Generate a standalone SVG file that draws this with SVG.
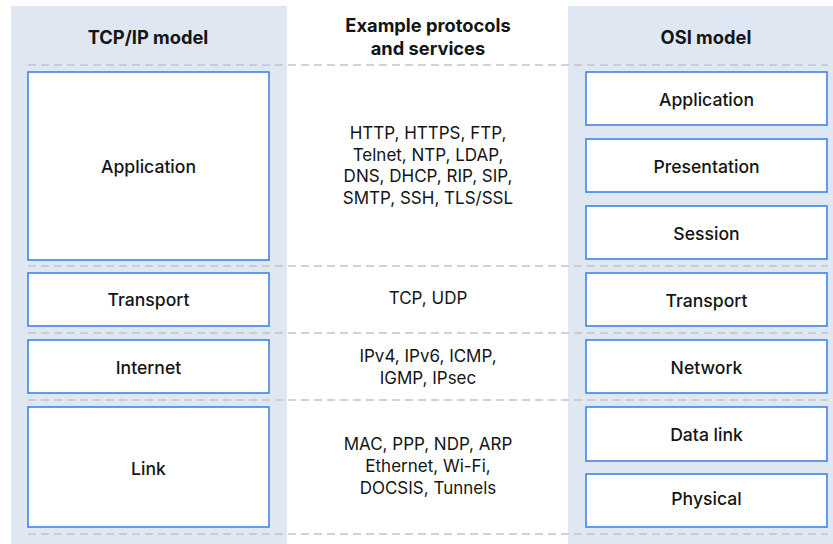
<svg xmlns="http://www.w3.org/2000/svg" width="833" height="544" viewBox="0 0 833 544">
<style>
.panel{fill:#dfe8f2}
.box{fill:#ffffff;stroke:#3d85e6;stroke-width:1.6}
.dash{stroke:#c4c4c4;stroke-width:1.6;stroke-dasharray:8 5;fill:none}
.t{font-family:Inter,"Open Sans","Liberation Sans",sans-serif;font-size:17.6px;font-weight:500;fill:#151515;text-anchor:middle;dominant-baseline:central}
.h{font-family:Inter,"Open Sans","Liberation Sans",sans-serif;font-size:18.3px;font-weight:700;fill:#151515;text-anchor:middle;dominant-baseline:central}
.m{font-family:Inter,"Open Sans","Liberation Sans",sans-serif;font-size:17px;font-weight:400;fill:#151515;text-anchor:middle;dominant-baseline:central}
</style>
<rect width="833" height="544" fill="#ffffff"/>
<rect class="panel" x="11" y="6" width="276" height="538"/>
<rect class="panel" x="568" y="6" width="265" height="538"/>
<g id="connectors">
<line class="dash" x1="28" y1="65" x2="828" y2="65"/>
<line class="dash" x1="28" y1="266" x2="828" y2="266"/>
<line class="dash" x1="28" y1="333" x2="828" y2="333"/>
<line class="dash" x1="28" y1="400" x2="828" y2="400"/>
<line class="dash" x1="28" y1="534" x2="828" y2="534"/>
</g>
<g id="headers">
<text class="h" x="148" y="37">TCP/IP model</text>
<text class="h" x="428" y="25">Example protocols</text>
<text class="h" x="428" y="48">and services</text>
<text class="h" x="706" y="37">OSI model</text>
</g>
<g id="tcp-application"><rect class="box" x="28" y="72" width="241" height="188"/><text class="t" x="148.5" y="166">Application</text></g>
<g id="tcp-transport"><rect class="box" x="28" y="273" width="241" height="53"/><text class="t" x="148.5" y="299">Transport</text></g>
<g id="tcp-internet"><rect class="box" x="28" y="340" width="241" height="53"/><text class="t" x="148.5" y="367">Internet</text></g>
<g id="tcp-link"><rect class="box" x="28" y="407" width="241" height="120"/><text class="t" x="148.5" y="468">Link</text></g>
<g id="proto-application">
<text class="m" x="428" y="133">HTTP, HTTPS, FTP,</text>
<text class="m" x="428" y="155">Telnet, NTP, LDAP,</text>
<text class="m" x="428" y="176">DNS, DHCP, RIP, SIP,</text>
<text class="m" x="428" y="198">SMTP, SSH, TLS/SSL</text>
</g>
<g id="proto-transport"><text class="m" x="428" y="298">TCP, UDP</text></g>
<g id="proto-internet">
<text class="m" x="428" y="356">IPv4, IPv6, ICMP,</text>
<text class="m" x="428" y="378">IGMP, IPsec</text>
</g>
<g id="proto-link">
<text class="m" x="428" y="444">MAC, PPP, NDP, ARP</text>
<text class="m" x="428" y="466">Ethernet, Wi-Fi,</text>
<text class="m" x="428" y="488">DOCSIS, Tunnels</text>
</g>
<g id="osi-application"><rect class="box" x="586" y="72" width="241" height="53"/><text class="t" x="706.5" y="99">Application</text></g>
<g id="osi-presentation"><rect class="box" x="586" y="139" width="241" height="53"/><text class="t" x="706.5" y="166">Presentation</text></g>
<g id="osi-session"><rect class="box" x="586" y="206" width="241" height="53"/><text class="t" x="706.5" y="233">Session</text></g>
<g id="osi-transport"><rect class="box" x="586" y="273" width="241" height="53"/><text class="t" x="706.5" y="300">Transport</text></g>
<g id="osi-network"><rect class="box" x="586" y="340" width="241" height="53"/><text class="t" x="706.5" y="367">Network</text></g>
<g id="osi-datalink"><rect class="box" x="586" y="407" width="241" height="54"/><text class="t" x="706.5" y="434">Data link</text></g>
<g id="osi-physical"><rect class="box" x="586" y="474" width="241" height="53"/><text class="t" x="706.5" y="498">Physical</text></g>
</svg>
